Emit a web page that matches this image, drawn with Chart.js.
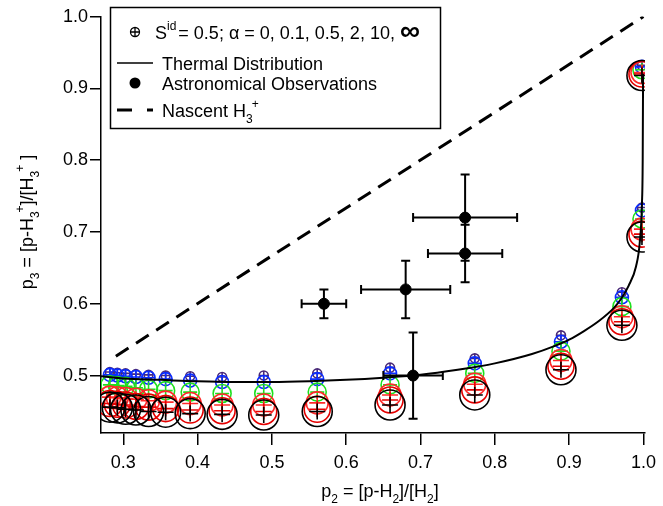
<!DOCTYPE html>
<html><head><meta charset="utf-8">
<script src="https://cdn.jsdelivr.net/npm/chart.js@4"></script>
<style>html,body{margin:0;padding:0;background:#fff}</style>
</head><body>
<canvas id="c" width="663" height="506" style="width:663px;height:506px;display:block"></canvas>
<script>
// ---------------- data ----------------
const xTicks = [0.3, 0.4, 0.5, 0.6, 0.7, 0.8, 0.9, 1.0];
const yTicks = [0.5, 0.6, 0.7, 0.8, 0.9, 1.0];

const alphaLabels = ['0', '0.1', '0.5', '2', '10', '∞'];
const p2Model = [0.282, 0.292, 0.303, 0.317, 0.334, 0.357, 0.390, 0.433, 0.489, 0.561, 0.659, 0.773, 0.889, 0.971, 0.998, 0.998];
const p3Alpha0   = [0.505, 0.504, 0.503, 0.502, 0.501, 0.500, 0.499, 0.498, 0.500, 0.503, 0.511, 0.524, 0.556, 0.616, 0.734, 0.932];
const p3Alpha01  = [0.501, 0.500, 0.499, 0.498, 0.497, 0.495, 0.493, 0.491, 0.491, 0.495, 0.503, 0.517, 0.547, 0.609, 0.730, 0.930];
const p3Alpha05  = [0.487, 0.486, 0.485, 0.483, 0.481, 0.479, 0.477, 0.475, 0.475, 0.477, 0.487, 0.503, 0.534, 0.596, 0.718, 0.926];
const p3Alpha2   = [0.470, 0.469, 0.468, 0.467, 0.465, 0.463, 0.461, 0.459, 0.459, 0.462, 0.473, 0.488, 0.521, 0.582, 0.704, 0.922];
const p3Alpha10  = [0.461, 0.460, 0.459, 0.457, 0.456, 0.454, 0.452, 0.451, 0.450, 0.453, 0.466, 0.480, 0.513, 0.575, 0.697, 0.920];
const p3AlphaInf = [0.456, 0.455, 0.453, 0.452, 0.450, 0.449, 0.447, 0.446, 0.445, 0.450, 0.459, 0.473, 0.508, 0.570, 0.693, 0.918];

const thermalX = [0.27, 0.30, 0.35, 0.40, 0.45, 0.50, 0.55, 0.60, 0.65, 0.70, 0.75, 0.80, 0.85, 0.88, 0.90, 0.92, 0.94, 0.96, 0.97, 0.98, 0.99, 0.995, 0.998, 0.999, 0.9995];
const thermalY = [0.499, 0.496, 0.494, 0.492, 0.491, 0.491, 0.492, 0.494, 0.497, 0.501, 0.508, 0.517, 0.530, 0.541, 0.550, 0.562, 0.576, 0.594, 0.607, 0.625, 0.652, 0.685, 0.740, 0.800, 0.920];

const obsX    = [0.57, 0.68, 0.76, 0.76, 0.69];
const obsY    = [0.60, 0.62, 0.67, 0.72, 0.50];
const obsXErr = [0.03, 0.06, 0.05, 0.07, 0.04];
const obsYErr = [0.02, 0.04, 0.04, 0.06, 0.06];

const nascentX = [0.29, 1.0];
const nascentY = [0.527, 1.0];

// ---------------- styles ----------------
const FONT = '"Liberation Sans", Arial, Helvetica, sans-serif';
const modelSeries = [p3Alpha0, p3Alpha01, p3Alpha05, p3Alpha2, p3Alpha10, p3AlphaInf];
const modelColors = ['#4a2a78', '#0a2cff', '#1ee01e', '#ff2a2a', '#e40000', '#000000'];
const modelRadii  = [4.5, 6.5, 9, 11, 13, 15];
const crossRadii  = [4.5, 6.5, 7, 8, 8, 8];

const datasets = [];
modelSeries.forEach((ser, i) => {
  const pts = p2Model.map((x, j) => ({x: x, y: ser[j]}));
  datasets.push({
    type: 'scatter', label: 'alpha=' + alphaLabels[i], data: pts,
    pointStyle: 'circle', pointRadius: modelRadii[i], pointHoverRadius: modelRadii[i],
    pointBorderColor: modelColors[i], pointBackgroundColor: 'rgba(0,0,0,0)',
    pointBorderWidth: 1.6, showLine: false, order: 20 - i * 2
  });
  datasets.push({
    type: 'scatter', label: 'alpha=' + alphaLabels[i] + ' cross', data: pts,
    pointStyle: 'cross', pointRadius: crossRadii[i], pointHoverRadius: crossRadii[i],
    pointBorderColor: modelColors[i], pointBackgroundColor: modelColors[i],
    pointBorderWidth: 1.6, showLine: false, order: 19 - i * 2
  });
});
datasets.push({
  type: 'line', label: 'Thermal Distribution',
  data: thermalX.map((x, j) => ({x: x, y: thermalY[j]})),
  borderColor: '#000', borderWidth: 2, pointRadius: 0, fill: false,
  cubicInterpolationMode: 'monotone', order: 3
});
datasets.push({
  type: 'line', label: 'Nascent H3+',
  data: nascentX.map((x, j) => ({x: x, y: nascentY[j]})),
  borderColor: '#000', borderWidth: 3, borderDash: [15, 9], pointRadius: 0, fill: false, order: 2
});
datasets.push({
  type: 'scatter', label: 'Astronomical Observations',
  data: obsX.map((x, j) => ({x: x, y: obsY[j]})),
  pointStyle: 'circle', pointRadius: 5.5, pointBackgroundColor: '#000', pointBorderColor: '#000',
  pointBorderWidth: 1, order: 1
});

// ------------- helpers -------------
function richWidth(ctx, segs, size) {
  let w = 0;
  segs.forEach(s => {
    const fs = (s.sub || s.sup) ? Math.round(size * 0.66) : size;
    ctx.font = (s.bold ? 'bold ' : '') + (s.size || fs) + 'px ' + FONT;
    w += ctx.measureText(s.t).width + (s.dx || 0);
  });
  return w;
}
function drawRich(ctx, x, y, segs, size) {
  let cx = x;
  segs.forEach(s => {
    const fs = (s.sub || s.sup) ? Math.round(size * 0.66) : size;
    ctx.font = (s.bold ? 'bold ' : '') + (s.size || fs) + 'px ' + FONT;
    let dy = 0;
    if (s.sub) dy = size * 0.32;
    if (s.sup) dy = -size * 0.48;
    ctx.fillText(s.t, cx, y + dy + (s.dy || 0));
    cx += ctx.measureText(s.t).width + (s.dx || 0);
  });
  return cx;
}

const errorBars = {
  id: 'errorBars',
  afterDatasetsDraw(chart) {
    const ctx = chart.ctx, xs = chart.scales.x, ys = chart.scales.y;
    ctx.save();
    ctx.strokeStyle = '#000';
    ctx.lineWidth = 2;
    const cap = 4.5;
    obsX.forEach((x, i) => {
      const px = xs.getPixelForValue(x), py = ys.getPixelForValue(obsY[i]);
      const x1 = xs.getPixelForValue(x - obsXErr[i]), x2 = xs.getPixelForValue(x + obsXErr[i]);
      const y1 = ys.getPixelForValue(obsY[i] - obsYErr[i]), y2 = ys.getPixelForValue(obsY[i] + obsYErr[i]);
      ctx.beginPath();
      ctx.moveTo(x1, py); ctx.lineTo(x2, py);
      ctx.moveTo(x1, py - cap); ctx.lineTo(x1, py + cap);
      ctx.moveTo(x2, py - cap); ctx.lineTo(x2, py + cap);
      ctx.moveTo(px, y1); ctx.lineTo(px, y2);
      ctx.moveTo(px - cap, y1); ctx.lineTo(px + cap, y1);
      ctx.moveTo(px - cap, y2); ctx.lineTo(px + cap, y2);
      ctx.stroke();
    });
    ctx.restore();
  }
};

const decorations = {
  id: 'decorations',
  afterDraw(chart) {
    const ctx = chart.ctx;
    ctx.save();
    ctx.fillStyle = '#000';
    ctx.textBaseline = 'alphabetic';
    ctx.textAlign = 'left';
    // x title
    const xt = [{t: 'p'}, {t: '2', sub: true}, {t: ' = [p-H'}, {t: '2', sub: true}, {t: ']/[H'}, {t: '2', sub: true}, {t: ']'}];
    const xw = richWidth(ctx, xt, 18);
    drawRich(ctx, 380 - xw / 2, 497, xt, 18);
    // y title
    const yt = [{t: 'p'}, {t: '3', sub: true}, {t: ' = [p-H'}, {t: '3', sub: true, dx: -1}, {t: '+', sup: true}, {t: ']/[H'}, {t: '3', sub: true, dx: -1}, {t: '+', sup: true}, {t: ' ]'}];
    const yw = richWidth(ctx, yt, 18);
    ctx.save();
    ctx.translate(33, 222);
    ctx.rotate(-Math.PI / 2);
    drawRich(ctx, -yw / 2, 0, yt, 18);
    ctx.restore();

    // legend box
    const L = 110.5, T = 7.5, R = 440.5, B = 128.5;
    ctx.fillStyle = '#fff';
    ctx.fillRect(L, T, R - L, B - T);
    ctx.strokeStyle = '#000';
    ctx.lineWidth = 1.5;
    ctx.strokeRect(L, T, R - L, B - T);
    ctx.fillStyle = '#000';
    // row 1: model marker
    ctx.lineWidth = 1.3;
    ctx.beginPath(); ctx.arc(135, 32, 4.5, 0, Math.PI * 2); ctx.stroke();
    ctx.beginPath(); ctx.moveTo(130.5, 32); ctx.lineTo(139.5, 32); ctx.moveTo(135, 27.5); ctx.lineTo(135, 36.5); ctx.stroke();
    const r1 = [{t: 'S'}, {t: 'id', sup: true, dx: 2}, {t: '= 0.5; α = 0, 0.1, 0.5, 2, 10, '}, {t: '∞', bold: true, size: 28, dy: 1}];
    drawRich(ctx, 155, 39, r1, 18);
    // row 2: thermal line
    ctx.lineWidth = 1.5;
    ctx.beginPath(); ctx.moveTo(117, 63); ctx.lineTo(153, 63); ctx.stroke();
    drawRich(ctx, 162, 70, [{t: 'Thermal Distribution'}], 18);
    // row 3: observations
    ctx.beginPath(); ctx.arc(135, 83, 5.5, 0, Math.PI * 2); ctx.fill();
    drawRich(ctx, 162, 90, [{t: 'Astronomical Observations'}], 18);
    // row 4: nascent
    ctx.lineWidth = 3;
    ctx.beginPath(); ctx.moveTo(117, 110); ctx.lineTo(132, 110); ctx.moveTo(147, 110); ctx.lineTo(153, 110); ctx.stroke();
    drawRich(ctx, 162, 117, [{t: 'Nascent H'}, {t: '3', sub: true, dx: -1}, {t: '+', sup: true}], 18);
    ctx.restore();
  }
};

new Chart(document.getElementById('c'), {
  data: {datasets: datasets},
  options: {
    responsive: false,
    animation: false,
    devicePixelRatio: 1,
    layout: {padding: {left: 0, right: 13, top: 15, bottom: 0}},
    plugins: {legend: {display: false}, tooltip: {enabled: false}, title: {display: false}},
    scales: {
      x: {
        type: 'linear', min: 0.27, max: 1.002,
        afterBuildTicks: s => { s.ticks = xTicks.map(v => ({value: v})); },
        afterFit: s => { s.height = 73; },
        ticks: {callback: v => Number(v).toFixed(1), color: '#000', font: {family: FONT, size: 18}, padding: 7, maxRotation: 0, autoSkip: false},
        grid: {display: true, drawOnChartArea: false, drawTicks: true, tickLength: 12, color: '#000', lineWidth: 1.5},
        border: {display: true, color: '#000', width: 1.5}
      },
      y: {
        type: 'linear', min: 0.42, max: 1.0,
        afterBuildTicks: s => { s.ticks = yTicks.map(v => ({value: v})); },
        afterFit: s => { s.width = 101; },
        ticks: {callback: v => Number(v).toFixed(1), color: '#000', font: {family: FONT, size: 18}, padding: 2, autoSkip: false},
        grid: {display: true, drawOnChartArea: false, drawTicks: true, tickLength: 11, color: '#000', lineWidth: 1.5},
        border: {display: true, color: '#000', width: 1.5}
      }
    }
  },
  plugins: [errorBars, decorations]
});
</script>
</body></html>
